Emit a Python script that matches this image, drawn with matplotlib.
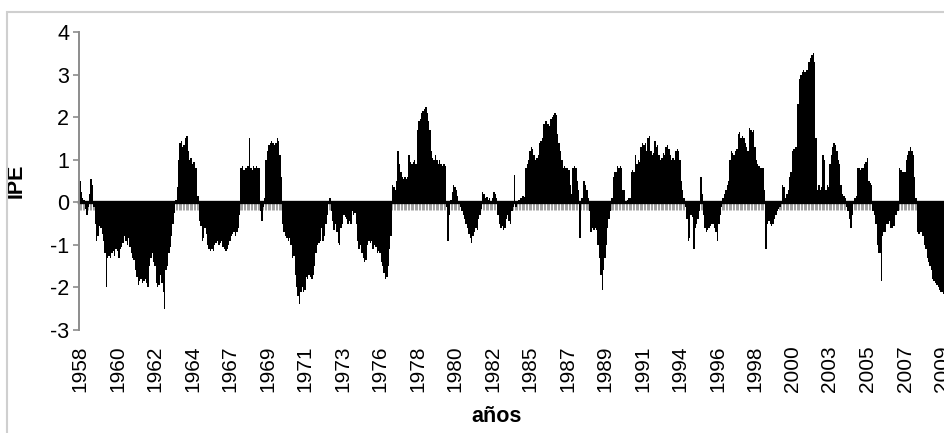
import numpy as np
import matplotlib.pyplot as plt
from matplotlib.patches import Rectangle

plt.rcParams['font.family'] = ['Liberation Sans', 'DejaVu Sans']
plt.rcParams['axes.unicode_minus'] = False

# IPE mensual (ene-dic por fila)
ipe_1958_1967 = [
    0.5, 0.25, 0.1, 0.05, -0.15, -0.3, -0.1, 0.2, 0.55, 0.4, -0.1, -0.5,
    -0.9, -0.8, -0.55, -0.6, -0.75, -0.9, -1.2, -2.0, -1.3, -1.25, -1.3, -1.2,
    -1.15, -1.25, -1.1, -1.15, -1.3, -1.1, -1.05, -0.95, -0.8, -0.9, -1.0, -0.85,
    -1.05, -1.2, -1.3, -1.35, -1.6, -1.75, -1.95, -1.85, -1.8, -1.9, -1.85, -1.8,
    -1.9, -2.0, -1.5, -1.3, -1.2, -1.4, -1.5, -1.9, -2.0, -1.95, -1.7, -1.9,
    -2.1, -2.5, -1.6, -1.5, -1.2, -1.05, -0.8, -0.5, -0.25, 0.05, 0.35, 1.0,
    1.4, 1.45, 1.3, 1.35, 1.5, 1.55, 1.2, 1.0, 1.05, 0.9, 0.95, 0.8,
    0.8, 0.15, -0.45, -0.55, -0.9, -0.85, -0.6, -0.75, -1.0, -1.1, -1.15, -1.1,
    -1.15, -1.0, -0.95, -0.9, -1.0, -0.95, -0.9, -1.05, -1.1, -1.15, -1.1, -1.0,
    -0.9, -0.8, -0.75, -0.7, -0.8, -0.7, -0.6, -0.3, 0.8, 0.85, 0.75, 0.8,
]
ipe_1968_1977 = [
    0.8, 0.85, 1.5, 0.8, 0.75, 0.85, 0.8, 0.85, 0.8, 0.8, -0.2, -0.45,
    -0.1, 0.1, 1.0, 1.2, 1.35, 1.4, 1.45, 1.4, 1.35, 1.4, 1.5, 1.45,
    1.1, 0.6, -0.5, -0.7, -0.8, -0.85, -0.9, -0.85, -1.0, -1.3, -1.25, -1.7,
    -2.0, -2.2, -2.4, -2.1, -2.0, -2.1, -2.05, -1.75, -1.8, -1.7, -1.75, -1.8,
    -1.7, -1.5, -1.2, -1.0, -0.95, -0.9, -0.6, -0.9, -0.8, -0.5, -0.3, 0.0,
    0.1, -0.2, -0.45, -0.65, -0.5, -0.7, -0.95, -1.0, -0.6, -0.5, -0.3, -0.35,
    -0.4, -0.5, -0.45, -0.52, -0.2, -0.3, -0.25, -0.5, -0.9, -1.1, -1.0, -1.2,
    -1.3, -1.4, -1.35, -1.0, -0.9, -0.95, -0.9, -1.1, -1.0, -1.05, -1.2, -1.15,
    -1.2, -1.4, -1.5, -1.65, -1.8, -1.75, -1.5, -1.1, -0.8, 0.4, 0.35, 0.3,
    0.5, 1.2, 0.9, 0.7, 0.6, 0.55, 0.6, 0.55, 0.6, 1.1, 0.95, 0.9,
]
ipe_1978_1987 = [
    0.95, 1.0, 0.9, 1.7, 1.9, 1.95, 2.1, 2.15, 2.2, 2.25, 2.1, 1.9,
    1.7, 1.2, 1.05, 1.0, 1.1, 1.0, 0.9, 1.0, 0.9, 0.85, 0.9, 0.85,
    -0.1, -0.9, -0.3, 0.05, 0.25, 0.4, 0.35, 0.3, 0.15, 0.0, -0.1, -0.2,
    -0.3, -0.4, -0.5, -0.6, -0.75, -0.85, -0.95, -0.8, -0.7, -0.6, -0.65, -0.4,
    -0.3, -0.15, 0.25, 0.2, 0.1, 0.12, 0.05, 0.1, 0.0, 0.1, 0.25, 0.2,
    0.1, -0.3, -0.5, -0.6, -0.55, -0.65, -0.6, -0.4, -0.3, -0.45, -0.5, -0.2,
    -0.1, 0.65, -0.1, 0.0, 0.05, 0.1, 0.1, 0.15, 0.12, 0.8, 0.9, 1.0,
    1.2, 1.3, 1.25, 1.1, 1.0, 1.05, 1.1, 1.4, 1.45, 1.5, 1.85, 1.9,
    1.9, 1.85, 1.8, 1.95, 2.0, 2.05, 2.1, 2.05, 1.6, 1.4, 1.2, 1.0,
    0.8, 0.85, 0.8, 0.8, 0.75, 0.4, 0.2, 0.8, 0.85, 0.8, 0.5, 0.3,
]
ipe_1988_1997 = [
    -0.85, 0.1, 0.1, 0.5, 0.4, 0.3, 0.1, -0.2, -0.7, -0.6, -0.65, -0.6,
    -0.65, -1.0, -1.3, -1.7, -2.05, -1.6, -1.3, -1.0, -0.6, -0.4, -0.2, 0.1,
    0.6, 0.7, 0.7, 0.85, 0.8, 0.85, 0.8, 0.3, 0.3, 0.0, 0.05, 0.1,
    0.1, 0.7, 0.75, 0.7, 1.1, 0.9, 1.0, 0.95, 1.3, 1.4, 1.35, 1.4,
    1.2, 1.5, 1.55, 1.2, 1.1, 1.15, 1.45, 1.3, 1.35, 1.1, 1.0, 1.05,
    1.15, 1.1, 1.3, 1.35, 1.25, 1.1, 1.0, 1.05, 1.0, 1.2, 1.25, 1.2,
    1.0, 0.5, 0.3, 0.1, -0.1, -0.4, -0.9, -0.85, -0.3, -0.35, -1.1, -0.6,
    -0.5, -0.4, -0.2, 0.6, 0.2, -0.3, -0.6, -0.7, -0.65, -0.6, -0.55, -0.5,
    -0.5, -0.6, -0.7, -0.9, -0.5, -0.3, -0.1, 0.1, 0.2, 0.3, 0.4, 0.5,
    1.0, 1.2, 1.15, 1.1, 1.2, 1.25, 1.6, 1.65, 1.5, 1.55, 1.5, 1.4,
]
ipe_1998_2009 = [
    1.3, 1.2, 1.75, 1.7, 1.65, 1.7, 1.3, 1.0, 0.9, 0.85, 0.8, 0.8,
    0.8, 0.3, -1.1, -0.5, -0.45, -0.5, -0.55, -0.5, -0.4, -0.3, -0.2, -0.15,
    -0.1, -0.05, 0.4, 0.35, 0.1, 0.2, 0.3, 0.6, 0.7, 1.2, 1.25, 1.3,
    1.3, 2.3, 2.9, 3.0, 3.05, 3.1, 3.05, 3.1, 3.1, 3.3, 3.4, 3.45,
    3.5, 3.3, 1.5, 0.3, 0.4, 0.3, 0.35, 1.1, 1.0, 0.3, 0.4, 0.35,
    0.9, 1.1, 1.3, 1.4, 1.35, 1.2, 1.0, 0.9, 0.4, 0.2, 0.15, 0.1,
    -0.1, -0.2, -0.4, -0.6, -0.3, 0.0, 0.1, 0.15, 0.8, 0.8, 0.75, 0.8,
    0.8, 0.9, 0.95, 1.05, 0.5, 0.45, 0.4, -0.2, -0.3, -0.5, -1.0, -1.2,
    -1.2, -1.85, -0.8, -0.7, -0.7, -0.5, -0.5, -0.45, -0.6, -0.6, -0.55, -0.3,
    -0.3, -0.2, 0.8, 0.75, 0.7, 0.7, 0.7, 1.0, 1.1, 1.2, 1.3, 1.2,
    1.1, 0.6, 0.1, -0.7, -0.75, -0.7, -0.7, -0.8, -1.0, -1.1, -1.3, -1.4,
    -1.5, -1.6, -1.8, -1.85, -1.9, -1.95, -2.0, -2.05, -2.1, -2.1, -2.15, -2.2,
]

# etiquetas del eje x: una cada 27 meses
year_labels = ['1958', '1960', '1962', '1964', '1967', '1969', '1971', '1973',
               '1976', '1978', '1980', '1982', '1985', '1987', '1989', '1991',
               '1994', '1996', '1998', '2000', '2003', '2005', '2007', '2009']
label_step = 27

ipe = np.concatenate((ipe_1958_1967, ipe_1968_1977, ipe_1978_1987,
                      ipe_1988_1997, ipe_1998_2009))
months = np.arange(len(ipe))

W, H = 945, 433
fig = plt.figure(figsize=(W / 100, H / 100), dpi=100)
ax = fig.add_axes([79 / W, 1 - 330 / H, 1 - 79 / W, (330 - 32) / H])

ax.bar(months, ipe, width=1.0, color='black', linewidth=0)

ax.set_xlim(-0.72, 622.8)
ax.set_ylim(-3, 4)

for side in ['top', 'right', 'bottom']:
    ax.spines[side].set_visible(False)
ax.spines['left'].set_color('#8c8c8c')
ax.spines['left'].set_linewidth(1.4)

ax.set_yticks(range(-3, 5))
ax.tick_params(axis='y', color='#8c8c8c', labelcolor='black', length=4,
               width=1.2, labelsize=15.5, pad=3)

ax.set_xticks(months[::label_step][:len(year_labels)])
ax.set_xticklabels(year_labels, rotation=90)
ax.tick_params(axis='x', length=0, labelsize=15, pad=11)

# eje de categorías cruzando en 0
zero_axis = ax.secondary_xaxis(3 / 7)
zero_axis.set_xticks(months)
zero_axis.tick_params(axis='x', length=5.5, width=0.5, color='#7a7a7a',
                      labelbottom=False, labeltop=False, direction='out')
zero_axis.spines['bottom'].set_color('black')
zero_axis.spines['bottom'].set_linewidth(2.4)

ax.set_ylabel('IPE', fontweight='bold', fontsize=15.5)
ax.yaxis.set_label_coords((27 - 79) / (W - 79), 0.5)
fig.text(497 / W, 1 - 416 / H, 'años', ha='center', va='center',
         fontweight='bold', fontsize=15.5)

fig.patches.append(Rectangle((7 / W, -0.1), 1.2, 1 - 12 / H + 0.1,
                             transform=fig.transFigure, fill=False,
                             edgecolor='#cfcfcf', linewidth=1.5))

fig.savefig('out.png', dpi=100)
